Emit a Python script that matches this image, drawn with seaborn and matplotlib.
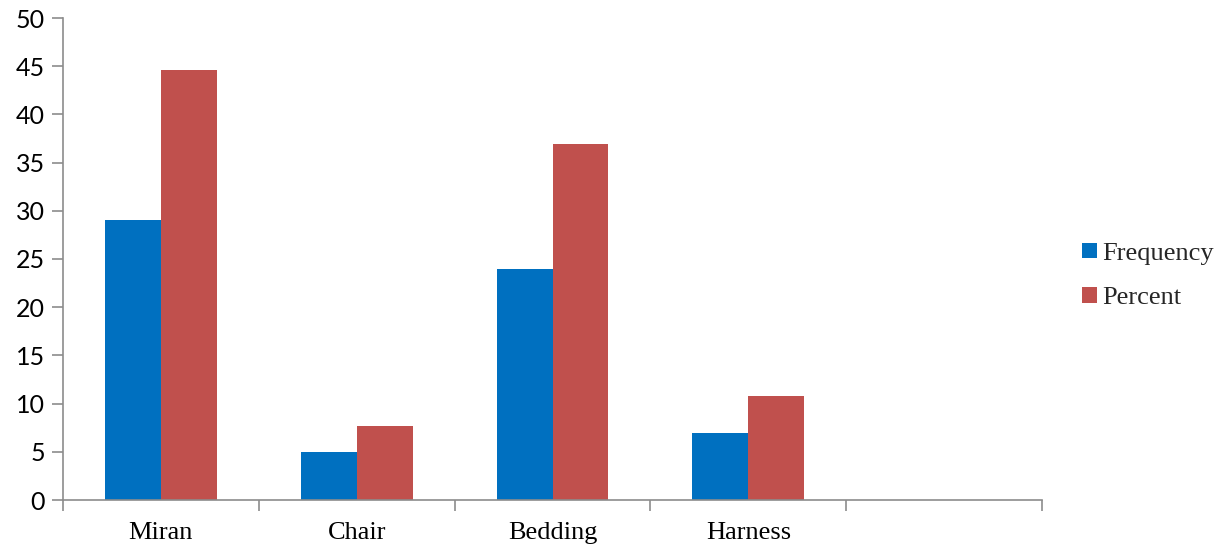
import numpy as np
import pandas as pd
import matplotlib
matplotlib.use("Agg")
import matplotlib.pyplot as plt
import seaborn as sns

# Item categories (fifth slot is left empty on the axis)
categories = ["Miran", "Chair", "Bedding", "Harness", ""]
frequency = [29, 5, 24, 7, np.nan]
percent = [44.6, 7.7, 36.9, 10.8, np.nan]
series_names = ["Frequency", "Percent"]
colors = ["#0070C0", "#C0504D"]
y_ticks = [0, 5, 10, 15, 20, 25, 30, 35, 40, 45, 50]

df = pd.DataFrame({
    "category": categories * 2,
    "value": frequency + percent,
    "series": [series_names[0]] * len(categories) + [series_names[1]] * len(categories),
})

sns.set_theme(style="white")
serif = ["Liberation Serif", "DejaVu Serif"]
sansf = ["Lato", "DejaVu Sans"]

fig = plt.figure(figsize=(12.22, 5.48), dpi=100)
ax = fig.add_axes([63 / 1222, 1 - 500 / 548, (1042 - 63) / 1222, (500 - 18) / 548])

sns.barplot(data=df, x="category", y="value", hue="series", order=categories,
            hue_order=series_names, palette=colors, width=0.57, saturation=1,
            edgecolor="none", linewidth=0, ax=ax, legend=True)

ax.set_xlim(-0.5, len(categories) - 0.5)
ax.set_ylim(0, 50)
ax.set_yticks(y_ticks)
ax.set_yticklabels([str(t) for t in y_ticks], fontfamily=sansf, fontsize=18, color="#000000")
ax.set_xlabel("")
ax.set_ylabel("")

# Category labels centred in slots, tick marks on slot boundaries
ax.set_xticks(range(len(categories)))
ax.set_xticklabels(categories, fontfamily=serif, fontsize=19, color="#000000")
ax.tick_params(axis="x", which="major", length=0, pad=16)
ax.set_xticks(np.arange(-0.5, len(categories)), minor=True)
ax.tick_params(axis="x", which="minor", length=8, width=1.2, color="#8c8c8c", direction="out", bottom=True)
ax.tick_params(axis="y", which="major", length=8, width=1.2, color="#8c8c8c", direction="out", left=True, pad=5)

for side in ["top", "right"]:
    ax.spines[side].set_visible(False)
for side in ["left", "bottom"]:
    ax.spines[side].set_color("#8c8c8c")
    ax.spines[side].set_linewidth(1.2)

handles, labels = ax.get_legend_handles_labels()
ax.get_legend().remove()
fig.legend(handles, labels, loc="center left", bbox_to_anchor=(1082 / 1222, 1 - 276 / 548),
           frameon=False, borderpad=0, borderaxespad=0, prop={"family": serif, "size": 19},
           handlelength=0.55, handleheight=0.55, handletextpad=0.2, labelspacing=0.85)

fig.savefig("out.png", dpi=100)
